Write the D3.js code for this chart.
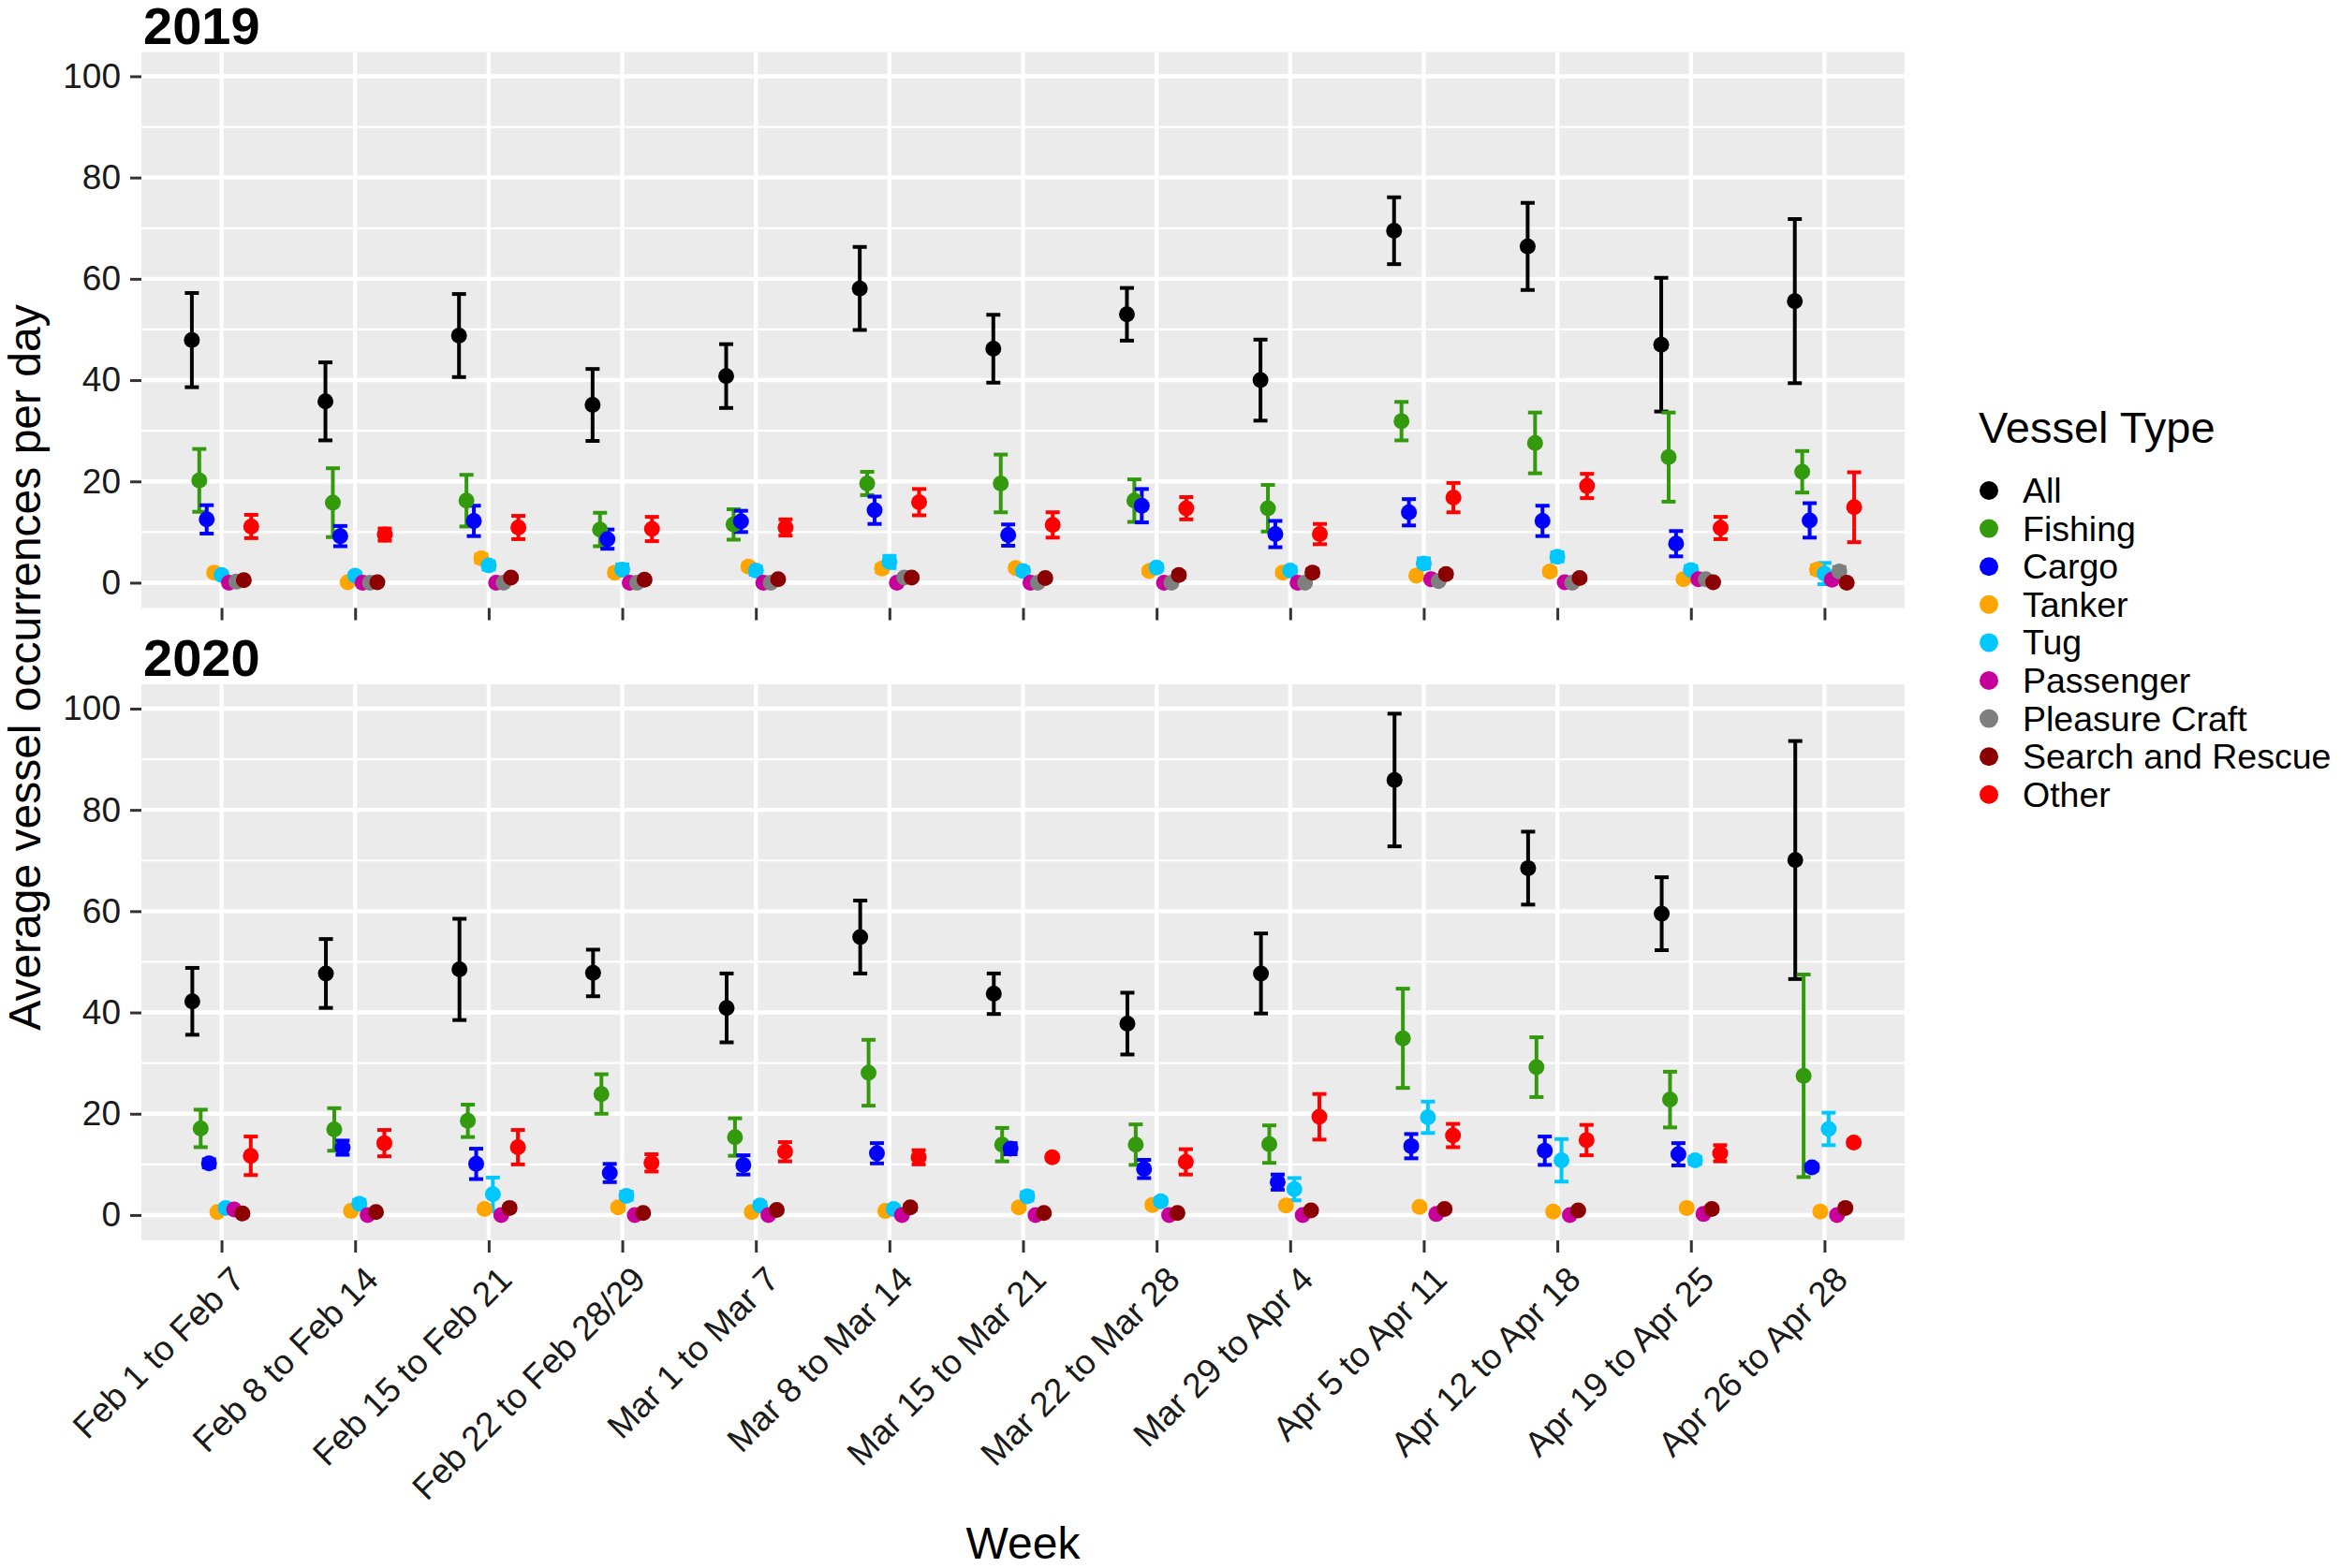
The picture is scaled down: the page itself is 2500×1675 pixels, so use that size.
<!DOCTYPE html>
<html>
<head>
<meta charset="utf-8">
<script src="https://cdn.jsdelivr.net/npm/d3@7"></script>
<style>
  body { margin: 0; background: #fff; }
  text { font-family: "Liberation Sans", Arial, sans-serif; }
</style>
</head>
<body>
<div id="chart"></div>
<script>
// week categories and vessel types
const weeks = ["Feb 1 to Feb 7", "Feb 8 to Feb 14", "Feb 15 to Feb 21", "Feb 22 to Feb 28/29",
  "Mar 1 to Mar 7", "Mar 8 to Mar 14", "Mar 15 to Mar 21", "Mar 22 to Mar 28", "Mar 29 to Apr 4",
  "Apr 5 to Apr 11", "Apr 12 to Apr 18", "Apr 19 to Apr 25", "Apr 26 to Apr 28"];
const vesselTypes = ["All", "Fishing", "Cargo", "Tanker", "Tug", "Passenger", "Pleasure Craft", "Search and Rescue", "Other"];
const typeColors = ["#000000", "#339A0E", "#0000FF", "#FFA500", "#00C8FF", "#C8009B", "#7F7F7F", "#8B0000", "#FF0000"];
const yTicks = [0, 20, 40, 60, 80, 100];
const yMinor = [10, 30, 50, 70, 90];

// [mean, error half-width] per week
const all2019 = [[47.9,9.3],[35.8,7.7],[48.8,8.2],[35.1,7.1],[40.8,6.3],[58.1,8.2],[46.2,6.7],[53.0,5.2],[40.0,8.0],[69.5,6.6],[66.4,8.6],[47.0,13.2],[55.6,16.2]];
const fishing2019 = [[20.2,6.2],[15.8,6.8],[16.2,5.1],[10.5,3.3],[11.5,3.0],[19.6,2.3],[19.6,5.7],[16.2,4.2],[14.7,4.6],[31.9,3.8],[27.6,6.0],[24.8,8.8],[21.9,4.1]];
const cargo2019 = [[12.5,2.8],[9.2,2.0],[12.2,3.0],[8.6,1.9],[12.1,2.1],[14.3,2.7],[9.4,2.1],[15.2,3.3],[9.6,2.6],[13.9,2.6],[12.2,3.0],[7.7,2.5],[12.3,3.4]];
const tanker2019 = [[2.0,0.5],[0.1,0.2],[4.8,0.8],[2.0,0.6],[3.2,0.6],[2.8,0.7],[2.9,0.5],[2.3,0.5],[2.0,0.5],[1.4,0.4],[2.2,0.6],[0.7,0.4],[2.6,0.8]];
const tug2019 = [[1.5,0.6],[1.4,0.5],[3.4,0.8],[2.6,1.0],[2.4,0.8],[4.1,1.2],[2.3,0.7],[3.0,0.6],[2.4,0.7],[3.8,1.0],[5.1,0.9],[2.5,0.8],[1.8,2.1]];
const passenger2019 = [[0,0.2],[0,0.1],[0,0.1],[0,0.1],[0,0.1],[0,0.1],[0,0.1],[0,0.1],[0,0.1],[0.7,0.3],[0.1,0.1],[0.7,0.3],[0.6,0.3]];
const pleasure2019 = [[0.2,0.2],[0,0.1],[0,0.1],[0,0.1],[0,0.1],[1.0,0.4],[0,0.1],[0,0.1],[0,0.1],[0.3,0.2],[0,0.1],[0.7,0.3],[2.2,0.9]];
const sar2019 = [[0.5,0.3],[0.1,0.1],[1.0,0.4],[0.6,0.3],[0.7,0.3],[1.0,0.4],[0.9,0.4],[1.5,0.5],[2.0,0.6],[1.7,0.5],[0.9,0.4],[0.1,0.1],[0,0.1]];
const other2019 = [[11.1,2.3],[9.5,1.2],[10.9,2.3],[10.6,2.4],[10.9,1.6],[15.9,2.6],[11.4,2.5],[14.7,2.2],[9.6,2.0],[16.8,2.9],[19.1,2.4],[10.8,2.2],[14.9,6.9]];

const all2020 = [[42.2,6.6],[47.7,6.8],[48.5,10.0],[47.8,4.6],[40.9,6.8],[54.9,7.2],[43.7,4.0],[37.8,6.1],[47.7,7.9],[85.9,13.1],[68.5,7.2],[59.5,7.2],[70.1,23.5]];
const fishing2020 = [[17.1,3.7],[16.9,4.2],[18.6,3.2],[23.9,3.9],[15.4,3.7],[28.1,6.5],[13.9,3.3],[13.9,4.0],[14.0,3.7],[34.9,9.8],[29.2,5.9],[22.8,5.5],[27.5,20.0]];
const cargo2020 = [[10.2,0.8],[13.3,1.4],[10.1,3.0],[8.3,1.8],[9.9,1.9],[12.2,2.0],[13.1,1.1],[9.1,1.8],[6.5,1.5],[13.6,2.4],[12.7,2.8],[12.0,2.2],[9.4,0.6]];
const tanker2020 = [[0.6,0.3],[0.8,0.3],[1.2,0.4],[1.5,0.5],[0.6,0.3],[0.8,0.3],[1.5,0.4],[2.0,0.5],[1.9,0.5],[1.6,0.4],[0.7,0.3],[1.4,0.4],[0.7,0.3]];
const tug2020 = [[1.4,0.5],[2.2,0.8],[4.1,3.3],[3.8,0.8],[1.9,0.6],[1.2,0.5],[3.7,0.8],[2.7,0.6],[5.1,2.2],[19.3,3.1],[10.8,4.2],[10.8,0.7],[17.0,3.2]];
const passenger2020 = [[1.1,0.4],[0,0.1],[0,0.1],[0,0.1],[0,0.1],[0,0.1],[0,0.1],[0,0.1],[0,0.1],[0.2,0.1],[0,0.1],[0.2,0.1],[0,0.1]];
const pleasure2020 = [null, null, null, null, null, null, null, null, null, null, null, null, null];
const sar2020 = [[0.3,0.2],[0.6,0.3],[1.4,0.4],[0.4,0.2],[1.0,0.4],[1.5,0.5],[0.4,0.2],[0.4,0.2],[0.9,0.3],[1.2,0.4],[0.9,0.3],[1.2,0.4],[1.4,0.4]];
const other2020 = [[11.7,3.8],[14.2,2.6],[13.4,3.4],[10.3,1.7],[12.5,1.9],[11.4,1.4],[11.4,0.4],[10.5,2.5],[19.4,4.5],[15.7,2.3],[14.8,3.0],[12.2,1.6],[14.3,0.5]];

const panels = [
    { year: "2019", top: 55.5, series: [all2019, fishing2019, cargo2019, tanker2019, tug2019, passenger2019, pleasure2019, sar2019, other2019] },
    { year: "2020", top: 731, series: [all2020, fishing2020, cargo2020, tanker2020, tug2020, passenger2020, pleasure2020, sar2020, other2020] }
];

const width = 2500, height = 1675;
const left = 151, right = 2034, panelH = 594;
const dodgeWidth = 0.5;
const font = "'Liberation Sans', Arial, sans-serif";

const svg = d3.select("#chart").append("svg")
    .attr("width", width)
    .attr("height", height)
    .style("background", "#fff");

const x = d3.scalePoint().domain(weeks).range([left, right]).padding(0.6);
const step = x.step();

panels.forEach((p, pi) => {
    const y = d3.scaleLinear().domain([-5, 104.8]).range([p.top + panelH, p.top]);
    const g = svg.append("g");

    g.append("rect")
        .attr("x", left).attr("y", p.top)
        .attr("width", right - left).attr("height", panelH)
        .attr("fill", "#EBEBEB");

    g.selectAll("line.minor").data(yMinor).join("line")
        .attr("x1", left).attr("x2", right)
        .attr("y1", d => y(d)).attr("y2", d => y(d))
        .attr("stroke", "#fff").attr("stroke-width", 2.2);

    g.selectAll("line.majorY").data(yTicks).join("line")
        .attr("x1", left).attr("x2", right)
        .attr("y1", d => y(d)).attr("y2", d => y(d))
        .attr("stroke", "#fff").attr("stroke-width", 4.4);

    g.selectAll("line.majorX").data(weeks).join("line")
        .attr("x1", d => x(d)).attr("x2", d => x(d))
        .attr("y1", p.top).attr("y2", p.top + panelH)
        .attr("stroke", "#fff").attr("stroke-width", 4.4);

    // facet title
    svg.append("text")
        .attr("x", 153).attr("y", p.top - 9)
        .attr("font-size", 56).attr("font-weight", "bold")
        .attr("fill", "#000")
        .text(p.year);

    // y axis
    const yAxis = svg.append("g")
        .attr("transform", `translate(${left},0)`)
        .call(d3.axisLeft(y).tickValues(yTicks).tickSize(12).tickPadding(10));
    yAxis.select(".domain").remove();
    yAxis.selectAll(".tick line").attr("stroke", "#333").attr("stroke-width", 3);
    yAxis.selectAll(".tick text").attr("font-size", 37).attr("font-family", font).attr("fill", "#1a1a1a");

    // x axis ticks
    const xAxis = svg.append("g")
        .attr("transform", `translate(0,${p.top + panelH})`)
        .call(d3.axisBottom(x).tickSize(13).tickFormat(""));
    xAxis.select(".domain").remove();
    xAxis.selectAll(".tick line").attr("stroke", "#333").attr("stroke-width", 3);

    // dodge among the series that have data
    const present = p.series.map((s, i) => i).filter(i => p.series[i].some(v => v));
    const n = present.length;
    const pts = [];
    present.forEach((si, k) => {
        const off = (-dodgeWidth / 2 + (k + 0.5) * dodgeWidth / n) * step;
        p.series[si].forEach((v, wi) => {
            if (!v) return;
            pts.push({ cx: x(weeks[wi]) + off, mean: v[0], err: v[1], color: typeColors[si] });
        });
    });

    const bars = g.append("g");
    const capW = 7.5;
    pts.forEach(d => {
        const bg = bars.append("g").attr("stroke", d.color).attr("stroke-width", 4);
        bg.append("line").attr("x1", d.cx).attr("x2", d.cx)
            .attr("y1", y(d.mean - d.err)).attr("y2", y(d.mean + d.err));
        bg.append("line").attr("x1", d.cx - capW).attr("x2", d.cx + capW)
            .attr("y1", y(d.mean + d.err)).attr("y2", y(d.mean + d.err));
        bg.append("line").attr("x1", d.cx - capW).attr("x2", d.cx + capW)
            .attr("y1", y(d.mean - d.err)).attr("y2", y(d.mean - d.err));
    });

    g.append("g").selectAll("circle").data(pts).join("circle")
        .attr("cx", d => d.cx).attr("cy", d => y(d.mean))
        .attr("r", 8.5).attr("fill", d => d.color);

    // week labels only under the bottom panel
    if (pi === panels.length - 1) {
        const base = p.top + panelH + 13 + 12;
        svg.append("g").selectAll("text").data(weeks).join("text")
            .attr("transform", d => `translate(${x(d) + 8},${base}) rotate(-45)`)
            .attr("text-anchor", "end")
            .attr("dy", "0.72em")
            .attr("font-size", 37)
            .attr("fill", "#1a1a1a")
            .text(d => d);
    }
});

// axis titles
svg.append("text")
    .attr("transform", "translate(43,713) rotate(-90)")
    .attr("text-anchor", "middle")
    .attr("font-size", 48)
    .attr("fill", "#000")
    .text("Average vessel occurrences per day");

svg.append("text")
    .attr("x", (left + right) / 2).attr("y", 1665)
    .attr("text-anchor", "middle")
    .attr("font-size", 48)
    .attr("fill", "#000")
    .text("Week");

// legend
const legend = svg.append("g").attr("transform", "translate(2113,0)");
legend.append("text")
    .attr("x", 0).attr("y", 473)
    .attr("font-size", 47)
    .attr("fill", "#000")
    .text("Vessel Type");

const items = legend.selectAll("g.item").data(vesselTypes).join("g")
    .attr("transform", (d, i) => `translate(0,${524 + i * 40.6})`);
items.append("circle").attr("cx", 11).attr("cy", 0).attr("r", 10)
    .attr("fill", (d, i) => typeColors[i]);
items.append("text").attr("x", 47).attr("y", 13)
    .attr("font-size", 37.5).attr("fill", "#000")
    .text(d => d);
</script>
</body>
</html>
